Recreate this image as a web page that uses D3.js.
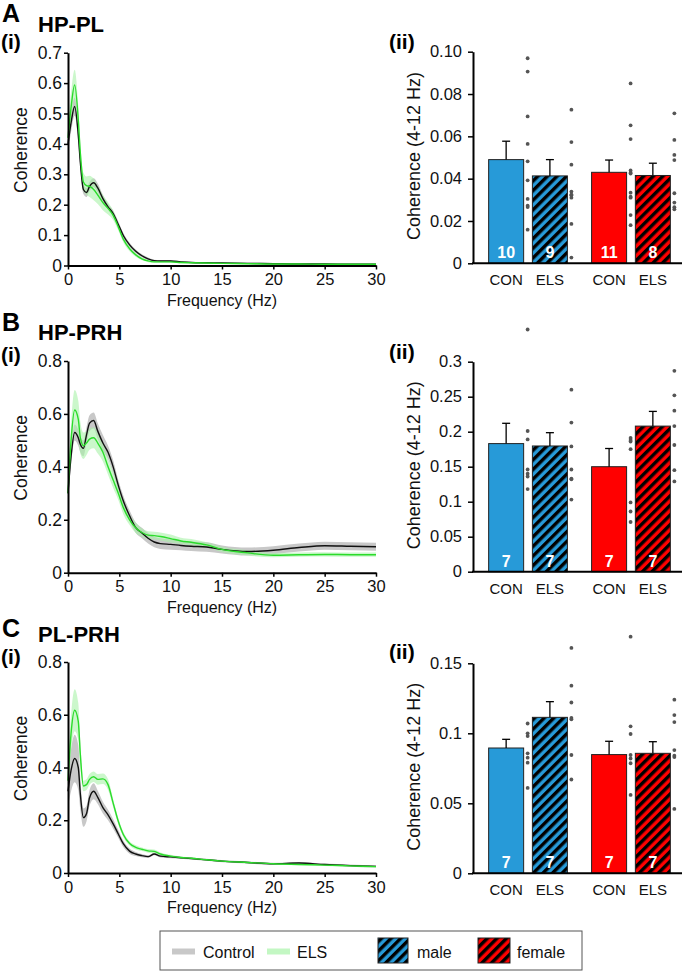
<!DOCTYPE html>
<html>
<head>
<meta charset="utf-8">
<script src="https://cdn.jsdelivr.net/npm/d3@7"></script>
<style>
body { margin: 0; background: #fff; }
svg { font-family: "Liberation Sans", Arial, sans-serif; }
</style>
</head>
<body>
<svg width="685" height="973"></svg>
<script>
// frequency grid (Hz) used by all coherence spectra
let freqs = [0, 0.3, 0.65, 1.0, 1.2, 1.5, 1.8, 2.1, 2.5, 2.9, 3.4, 3.9, 4.4, 4.9, 5.4, 6.0, 6.6, 7.2, 7.8, 8.4, 9, 10, 11, 12, 13.5, 15, 17.5, 20, 22.5, 25, 27.5, 30];

// HP-PL
let ctrlA = [0.40, 0.47, 0.523, 0.43, 0.34, 0.25, 0.24, 0.26, 0.272, 0.255, 0.22, 0.193, 0.171, 0.135, 0.098, 0.068, 0.047, 0.032, 0.022, 0.016, 0.015, 0.015, 0.012, 0.010, 0.009, 0.008, 0.007, 0.006, 0.005, 0.005, 0.004, 0.004];
let ctrlSemA = [0.03, 0.03, 0.03, 0.025, 0.02, 0.015, 0.015, 0.015, 0.015, 0.015, 0.012, 0.01, 0.01, 0.01, 0.008, 0.007, 0.006, 0.005, 0.004, 0.003, 0.003, 0.003, 0.002, 0.002, 0.002, 0.002, 0.002, 0.002, 0.002, 0.002, 0.002, 0.002];
let elsA = [0.42, 0.52, 0.594, 0.48, 0.37, 0.275, 0.263, 0.26, 0.25, 0.232, 0.207, 0.188, 0.165, 0.127, 0.086, 0.055, 0.035, 0.022, 0.015, 0.012, 0.012, 0.012, 0.010, 0.009, 0.008, 0.007, 0.006, 0.005, 0.005, 0.004, 0.004, 0.004];
let elsSemA = [0.04, 0.05, 0.05, 0.045, 0.035, 0.03, 0.03, 0.035, 0.035, 0.03, 0.025, 0.02, 0.015, 0.012, 0.01, 0.008, 0.006, 0.005, 0.004, 0.003, 0.003, 0.003, 0.003, 0.002, 0.002, 0.002, 0.002, 0.002, 0.002, 0.002, 0.002, 0.002];

// HP-PRH
let ctrlB = [0.30, 0.44, 0.53, 0.51, 0.485, 0.47, 0.52, 0.565, 0.575, 0.535, 0.49, 0.455, 0.40, 0.33, 0.27, 0.215, 0.17, 0.15, 0.13, 0.116, 0.11, 0.107, 0.103, 0.10, 0.097, 0.088, 0.08, 0.085, 0.095, 0.102, 0.10, 0.098];
let ctrlSemB = [0.03, 0.03, 0.03, 0.03, 0.03, 0.03, 0.03, 0.03, 0.03, 0.03, 0.03, 0.025, 0.025, 0.02, 0.02, 0.02, 0.02, 0.02, 0.02, 0.02, 0.02, 0.02, 0.018, 0.018, 0.018, 0.015, 0.015, 0.015, 0.015, 0.015, 0.015, 0.015];
let elsB = [0.30, 0.50, 0.615, 0.58, 0.51, 0.48, 0.49, 0.505, 0.51, 0.49, 0.455, 0.40, 0.35, 0.30, 0.245, 0.20, 0.17, 0.152, 0.142, 0.14, 0.137, 0.129, 0.12, 0.115, 0.105, 0.088, 0.075, 0.066, 0.068, 0.069, 0.068, 0.068];
let elsSemB = [0.04, 0.06, 0.075, 0.07, 0.06, 0.05, 0.045, 0.04, 0.04, 0.04, 0.035, 0.03, 0.03, 0.025, 0.025, 0.02, 0.02, 0.015, 0.015, 0.015, 0.015, 0.015, 0.012, 0.012, 0.01, 0.01, 0.01, 0.008, 0.008, 0.008, 0.008, 0.008];

// PL-PRH
let ctrlC = [0.31, 0.39, 0.434, 0.40, 0.30, 0.21, 0.225, 0.285, 0.31, 0.287, 0.248, 0.22, 0.186, 0.148, 0.11, 0.083, 0.072, 0.066, 0.062, 0.072, 0.064, 0.061, 0.058, 0.055, 0.05, 0.045, 0.04, 0.035, 0.038, 0.032, 0.028, 0.025];
let ctrlSemC = [0.06, 0.08, 0.09, 0.085, 0.06, 0.035, 0.03, 0.03, 0.03, 0.025, 0.022, 0.02, 0.018, 0.015, 0.012, 0.01, 0.008, 0.006, 0.005, 0.005, 0.005, 0.005, 0.004, 0.004, 0.004, 0.004, 0.004, 0.004, 0.004, 0.004, 0.004, 0.004];
let elsC = [0.35, 0.53, 0.617, 0.575, 0.45, 0.33, 0.335, 0.355, 0.365, 0.355, 0.357, 0.335, 0.265, 0.196, 0.145, 0.112, 0.097, 0.09, 0.084, 0.082, 0.072, 0.064, 0.059, 0.056, 0.05, 0.045, 0.04, 0.035, 0.032, 0.03, 0.027, 0.024];
let elsSemC = [0.05, 0.07, 0.08, 0.07, 0.05, 0.02, 0.02, 0.02, 0.02, 0.02, 0.02, 0.02, 0.015, 0.012, 0.01, 0.008, 0.008, 0.007, 0.007, 0.007, 0.006, 0.005, 0.004, 0.004, 0.003, 0.003, 0.003, 0.003, 0.003, 0.003, 0.003, 0.003];

// bar data, order: male CON, male ELS, female CON, female ELS
let sexes = ["male", "female"];
let conditions = ["CON", "ELS"];

let meanA = [0.049, 0.0413, 0.043, 0.0415];
let semA = [0.0087, 0.0077, 0.0058, 0.0058];
let nA = [10, 9, 11, 8];
let dotsA = [
  [0.0969, 0.0906, 0.0694, 0.0564, 0.0482, 0.0392, 0.0304, 0.0272, 0.0266, 0.0159],
  [0.0726, 0.0573, 0.0466, 0.0339, 0.0325, 0.0322, 0.031, 0.0186, 0.0027],
  [0.085, 0.0652, 0.0587, 0.0439, 0.0428, 0.0424, 0.0334, 0.0315, 0.031, 0.0228, 0.018],
  [0.0709, 0.0583, 0.0512, 0.0488, 0.0331, 0.0287, 0.0265, 0.0255]
];

let meanB = [0.183, 0.1796, 0.15, 0.208];
let semB = [0.029, 0.019, 0.026, 0.021];
let nB = [7, 7, 7, 7];
let dotsB = [
  [0.346, 0.201, 0.189, 0.146, 0.140, 0.136, 0.118],
  [0.260, 0.213, 0.179, 0.146, 0.133, 0.132, 0.103],
  [0.191, 0.188, 0.186, 0.175, 0.099, 0.086, 0.071],
  [0.287, 0.252, 0.230, 0.208, 0.181, 0.145, 0.129]
];

let meanC = [0.0895, 0.1114, 0.0848, 0.0857];
let semC = [0.0062, 0.0112, 0.0095, 0.0083];
let nC = [7, 7, 7, 7];
let dotsC = [
  [0.107, 0.100, 0.098, 0.0857, 0.0826, 0.079, 0.061],
  [0.161, 0.134, 0.122, 0.111, 0.110, 0.0845, 0.067],
  [0.169, 0.105, 0.0995, 0.0845, 0.082, 0.0786, 0.056],
  [0.124, 0.113, 0.108, 0.088, 0.084, 0.083, 0.046]
];

let ticksA = [0, 0.1, 0.2, 0.3, 0.4, 0.5, 0.6, 0.7];
let ticksBC = [0, 0.2, 0.4, 0.6, 0.8];
let barTicksA = [0, 0.02, 0.04, 0.06, 0.08, 0.10];
let barTicksB = [0, 0.05, 0.1, 0.15, 0.2, 0.25, 0.3];
let barTicksC = [0, 0.05, 0.1, 0.15];
let freqTicks = [0, 5, 10, 15, 20, 25, 30];

let maleColor = "#279ad8";
let femaleColor = "#ff0000";
let greyBand = "#c8c8c8";
let greenBand = "#a8f2a8";
let greenLine = "#2bdc2b";

let panels = [
  { letter: "A", name: "HP-PL", ctrl: ctrlA, ctrlSem: ctrlSemA, els: elsA, elsSem: elsSemA, ticks: ticksA,
    mean: meanA, sem: semA, n: nA, dots: dotsA, barTicks: barTicksA, barFmt: d3.format(".2f") },
  { letter: "B", name: "HP-PRH", ctrl: ctrlB, ctrlSem: ctrlSemB, els: elsB, elsSem: elsSemB, ticks: ticksBC,
    mean: meanB, sem: semB, n: nB, dots: dotsB, barTicks: barTicksB, barFmt: function(d) { return String(+d.toFixed(2)); } },
  { letter: "C", name: "PL-PRH", ctrl: ctrlC, ctrlSem: ctrlSemC, els: elsC, elsSem: elsSemC, ticks: ticksBC,
    mean: meanC, sem: semC, n: nC, dots: dotsC, barTicks: barTicksC, barFmt: function(d) { return String(+d.toFixed(2)); } }
];

// where each row sits on the page
let layout = [
  { letterY: 22, nameY: 32, iY: 49, iiY: 49, lTop: 52.7, lBot: 265.5, rTop: 51.7, rBot: 263.3 },
  { letterY: 330.7, nameY: 340, iY: 362, iiY: 359, lTop: 361, lBot: 572.7, rTop: 361.7, rBot: 571.7 },
  { letterY: 637, nameY: 641.7, iY: 664, iiY: 659, lTop: 662, lBot: 873, rTop: 663.3, rBot: 873.3 }
];

let svg = d3.select("svg");
let defs = svg.append("defs");

// diagonal hatch for the ELS bars
[["hatch-male", maleColor], ["hatch-female", femaleColor]].forEach(function(h) {
  let pat = defs.append("pattern")
    .attr("id", h[0])
    .attr("patternUnits", "userSpaceOnUse")
    .attr("width", 6.8).attr("height", 6.8)
    .attr("patternTransform", "rotate(45)");
  pat.append("rect").attr("width", 6.8).attr("height", 6.8).attr("fill", h[1]);
  pat.append("rect").attr("width", 3.4).attr("height", 6.8).attr("fill", "#000");
});

let xFreq = d3.scaleLinear().domain([0, 30]).range([68, 376]);
let axisX = 473; // y axis of bar plots
let x0 = d3.scaleBand().domain(sexes).range([axisX + 2, axisX + 211]).paddingInner(0.15).paddingOuter(0.09);
let x1 = d3.scaleBand().domain(conditions).range([0, x0.bandwidth()]).paddingInner(0.2).paddingOuter(0.1);

function styleAxis(g, size) {
  g.select(".domain").attr("stroke", "#000").attr("stroke-width", 2);
  g.selectAll(".tick line").attr("stroke", "#000").attr("stroke-width", 1.5);
  g.selectAll(".tick text").attr("fill", "#111").style("font-size", size + "px")
    .style("font-family", "'Liberation Sans', Arial, sans-serif");
}

panels.forEach(function(p, k) {
  let L = layout[k];
  let g = svg.append("g");

  // headings
  g.append("text").attr("x", 2).attr("y", L.letterY).style("font-size", "25px").style("font-weight", "bold").text(p.letter);
  g.append("text").attr("x", 38).attr("y", L.nameY).style("font-size", "22px").style("font-weight", "bold").text(p.name);
  g.append("text").attr("x", 1).attr("y", L.iY).style("font-size", "21px").style("font-weight", "bold").text("(i)");
  g.append("text").attr("x", 389).attr("y", L.iiY).style("font-size", "21px").style("font-weight", "bold").text("(ii)");

  // ---- spectrum panel ----
  let yMax = d3.max(p.ticks);
  let y = d3.scaleLinear().domain([0, yMax]).range([L.lBot, L.lTop]);

  let rows = freqs.map(function(f, i) {
    return { f: f, c: p.ctrl[i], cs: p.ctrlSem[i], e: p.els[i], es: p.elsSem[i] };
  });

  let ctrlArea = d3.area().curve(d3.curveMonotoneX)
    .x(function(d) { return xFreq(d.f); })
    .y0(function(d) { return y(Math.max(0, d.c - d.cs)); })
    .y1(function(d) { return y(d.c + d.cs); });
  let elsArea = d3.area().curve(d3.curveMonotoneX)
    .x(function(d) { return xFreq(d.f); })
    .y0(function(d) { return y(Math.max(0, d.e - d.es)); })
    .y1(function(d) { return y(d.e + d.es); });
  let ctrlLine = d3.line().curve(d3.curveMonotoneX)
    .x(function(d) { return xFreq(d.f); })
    .y(function(d) { return y(d.c); });
  let elsLine = d3.line().curve(d3.curveMonotoneX)
    .x(function(d) { return xFreq(d.f); })
    .y(function(d) { return y(d.e); });

  g.append("path").datum(rows).attr("d", ctrlArea).attr("fill", greyBand);
  g.append("path").datum(rows).attr("d", elsArea).attr("fill", greenBand).attr("opacity", 0.6);
  g.append("path").datum(rows).attr("d", ctrlLine).attr("fill", "none").attr("stroke", "#111").attr("stroke-width", 1.4);
  g.append("path").datum(rows).attr("d", elsLine).attr("fill", "none").attr("stroke", greenLine).attr("stroke-width", 1.4);

  let xg = g.append("g").attr("transform", "translate(0," + L.lBot + ")")
    .call(d3.axisBottom(xFreq).tickValues(freqTicks).tickSize(4).tickSizeOuter(0).tickPadding(4));
  styleAxis(xg, 16.5);
  let yg = g.append("g").attr("transform", "translate(" + xFreq(0) + ",0)")
    .call(d3.axisLeft(y).tickValues(p.ticks).tickSize(4).tickSizeOuter(0).tickPadding(2)
      .tickFormat(function(d) { return d === 0 ? "0" : d3.format(".1f")(d); }));
  styleAxis(yg, 17.5);

  g.append("text").attr("x", 222).attr("y", L.lBot + 40).attr("text-anchor", "middle")
    .style("font-size", "16px").attr("fill", "#111").text("Frequency (Hz)");
  g.append("text")
    .attr("transform", "translate(26.5," + ((L.lTop + L.lBot) / 2 - 9) + ") rotate(-90)")
    .attr("text-anchor", "middle").style("font-size", "17.5px").attr("fill", "#111").text("Coherence");

  // ---- bar panel ----
  let yb = d3.scaleLinear().domain([0, d3.max(p.barTicks)]).range([L.rBot, L.rTop]);
  let bars = [];
  sexes.forEach(function(s, si) {
    conditions.forEach(function(c, ci) {
      let i = si * 2 + ci;
      bars.push({ sex: s, cond: c, mean: p.mean[i], sem: p.sem[i], n: p.n[i], dots: p.dots[i] });
    });
  });
  function bx(d) { return x0(d.sex) + x1(d.cond); }
  let bw = x1.bandwidth();

  g.selectAll("rect.bar").data(bars).enter().append("rect")
    .attr("class", "bar")
    .attr("x", bx)
    .attr("y", function(d) { return yb(d.mean); })
    .attr("width", bw)
    .attr("height", function(d) { return yb(0) - yb(d.mean); })
    .attr("fill", function(d) {
      if (d.cond === "ELS") return "url(#hatch-" + d.sex + ")";
      return d.sex === "male" ? maleColor : femaleColor;
    })
    .attr("stroke", "#222").attr("stroke-width", 1);

  // upper error bars
  let eb = g.selectAll("g.err").data(bars).enter().append("g").attr("class", "err");
  eb.append("line")
    .attr("x1", function(d) { return bx(d) + bw / 2; })
    .attr("x2", function(d) { return bx(d) + bw / 2; })
    .attr("y1", function(d) { return yb(d.mean); })
    .attr("y2", function(d) { return yb(d.mean + d.sem); })
    .attr("stroke", "#000").attr("stroke-width", 1.3);
  eb.append("line")
    .attr("x1", function(d) { return bx(d) + bw / 2 - 4; })
    .attr("x2", function(d) { return bx(d) + bw / 2 + 4; })
    .attr("y1", function(d) { return yb(d.mean + d.sem); })
    .attr("y2", function(d) { return yb(d.mean + d.sem); })
    .attr("stroke", "#000").attr("stroke-width", 1.3);

  // n per group
  g.selectAll("text.n").data(bars).enter().append("text")
    .attr("class", "n")
    .attr("x", function(d) { return bx(d) + bw / 2; })
    .attr("y", yb(0) - 5)
    .attr("text-anchor", "middle")
    .style("font-size", "16px").style("font-weight", "bold").attr("fill", "#fff")
    .text(function(d) { return d.n; });

  // individual animals
  bars.forEach(function(d) {
    g.selectAll(null).data(d.dots).enter().append("circle")
      .attr("cx", bx(d) + bw + 4)
      .attr("cy", function(v) { return yb(v); })
      .attr("r", 1.9)
      .attr("fill", "#555");
  });

  let ybg = g.append("g").attr("transform", "translate(" + axisX + ",0)")
    .call(d3.axisLeft(yb).tickValues(p.barTicks).tickSize(5).tickSizeOuter(0).tickPadding(6)
      .tickFormat(function(d) { return d === 0 ? "0" : p.barFmt(d); }));
  styleAxis(ybg, 16.5);
  g.append("line").attr("x1", axisX - 1).attr("x2", axisX + 209)
    .attr("y1", yb(0)).attr("y2", yb(0)).attr("stroke", "#000").attr("stroke-width", 2);

  g.selectAll("text.cat").data(bars).enter().append("text")
    .attr("class", "cat")
    .attr("x", function(d) { return bx(d) + bw / 2; })
    .attr("y", yb(0) + 22)
    .attr("text-anchor", "middle")
    .style("font-size", "15px").attr("fill", "#111")
    .text(function(d) { return d.cond; });

  g.append("text")
    .attr("transform", "translate(419.5," + ((L.rTop + L.rBot) / 2 - 1.5) + ") rotate(-90)")
    .attr("text-anchor", "middle").style("font-size", "18px").attr("fill", "#111").text("Coherence (4-12 Hz)");
});

// legend
let leg = svg.append("g");
leg.append("rect").attr("x", 160).attr("y", 931).attr("width", 422).attr("height", 39)
  .attr("fill", "#fff").attr("stroke", "#555").attr("stroke-width", 1);
leg.append("line").attr("x1", 172).attr("x2", 195).attr("y1", 951.5).attr("y2", 951.5)
  .attr("stroke", greyBand).attr("stroke-width", 6);
leg.append("text").attr("x", 203).attr("y", 958).style("font-size", "16px").attr("fill", "#111").text("Control");
leg.append("line").attr("x1", 267).attr("x2", 290).attr("y1", 951.5).attr("y2", 951.5)
  .attr("stroke", "#c3f7c3").attr("stroke-width", 6);
leg.append("text").attr("x", 297).attr("y", 958).style("font-size", "16px").attr("fill", "#111").text("ELS");
leg.append("rect").attr("x", 378).attr("y", 938).attr("width", 30).attr("height", 25)
  .attr("fill", "url(#hatch-male)").attr("stroke", "#222");
leg.append("text").attr("x", 417).attr("y", 958).style("font-size", "16px").attr("fill", "#111").text("male");
leg.append("rect").attr("x", 478).attr("y", 938).attr("width", 32).attr("height", 25)
  .attr("fill", "url(#hatch-female)").attr("stroke", "#222");
leg.append("text").attr("x", 517).attr("y", 958).style("font-size", "16px").attr("fill", "#111").text("female");
</script>
</body>
</html>
